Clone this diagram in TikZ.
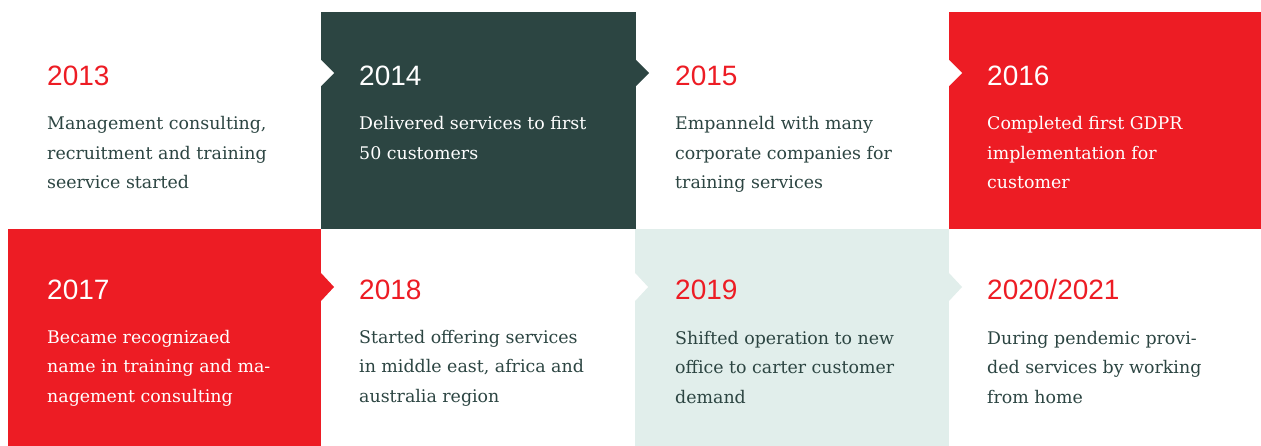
\documentclass[tikz,border=0pt]{standalone}
\usepackage{fontspec}
\setmainfont{DejaVu Serif}
\newfontfamily\yearfont{Liberation Sans}
\definecolor{tlred}{HTML}{ED1C24}
\definecolor{tldark}{HTML}{2C4542}
\definecolor{tllight}{HTML}{E1EEEB}

\begin{document}
\begin{tikzpicture}[x=1pt, y=-1pt,
    year/.style={anchor=base west, inner sep=0pt, font=\yearfont\fontsize{28}{28}\selectfont},
    info/.style={anchor=base west, inner sep=0pt, align=left, text=tldark, font=\fontsize{17.4}{29.5}\selectfont}]
    \useasboundingbox (0,0) rectangle (1261,446);
    \fill[white] (0,0) rectangle (1261,446);
    \fill[tldark] (321,12) rectangle (636,229);
    \fill[tlred] (949,12) rectangle (1261,229);
    \fill[tlred] (8,229) rectangle (321,446);
    \fill[tllight] (635,229) rectangle (949,446);
    \fill[white] (321,60) -- (334,73) -- (321,86) -- cycle;
    \fill[tldark] (636,60) -- (649,73) -- (636,86) -- cycle;
    \fill[white] (949,60) -- (962,73) -- (949,86) -- cycle;
    \fill[tlred] (321,273) -- (334,287) -- (321,301) -- cycle;
    \fill[white] (635,273) -- (648,287) -- (635,301) -- cycle;
    \fill[tllight] (949,273) -- (962,287) -- (949,301) -- cycle;
    \node[year, text=tlred] (y13) at (47,86) {2013};
    \node[year, text=white] (y14) at (359,86) {2014};
    \node[year, text=tlred] (y15) at (675,86) {2015};
    \node[year, text=white] (y16) at (987,86) {2016};
    \node[year, text=white] (y17) at (47,300) {2017};
    \node[year, text=tlred] (y18) at (359,300) {2018};
    \node[year, text=tlred] (y19) at (675,300) {2019};
    \node[year, text=tlred] (y20) at (987,300) {2020/2021};
    \node[info] (t13) at (47,189) {Management consulting,\\recruitment and training\\seervice started};
    \node[info, text=white] (t14) at (359,159.5) {Delivered services to first\\50 customers};
    \node[info] (t15) at (675,189) {Empanneld with many\\corporate companies for\\training services};
    \node[info, text=white] (t16) at (987,189) {Completed first GDPR\\implementation for\\customer};
    \node[info, text=white] (t17) at (47,402) {Became recognizaed\\name in training and ma-\\nagement consulting};
    \node[info] (t18) at (359,402) {Started offering services\\in middle east, africa and\\australia region};
    \node[info] (t19) at (675,403) {Shifted operation to new\\office to carter customer\\demand};
    \node[info] (t20) at (987,403) {During pendemic provi-\\ded services by working\\from home};
\end{tikzpicture}
\end{document}
